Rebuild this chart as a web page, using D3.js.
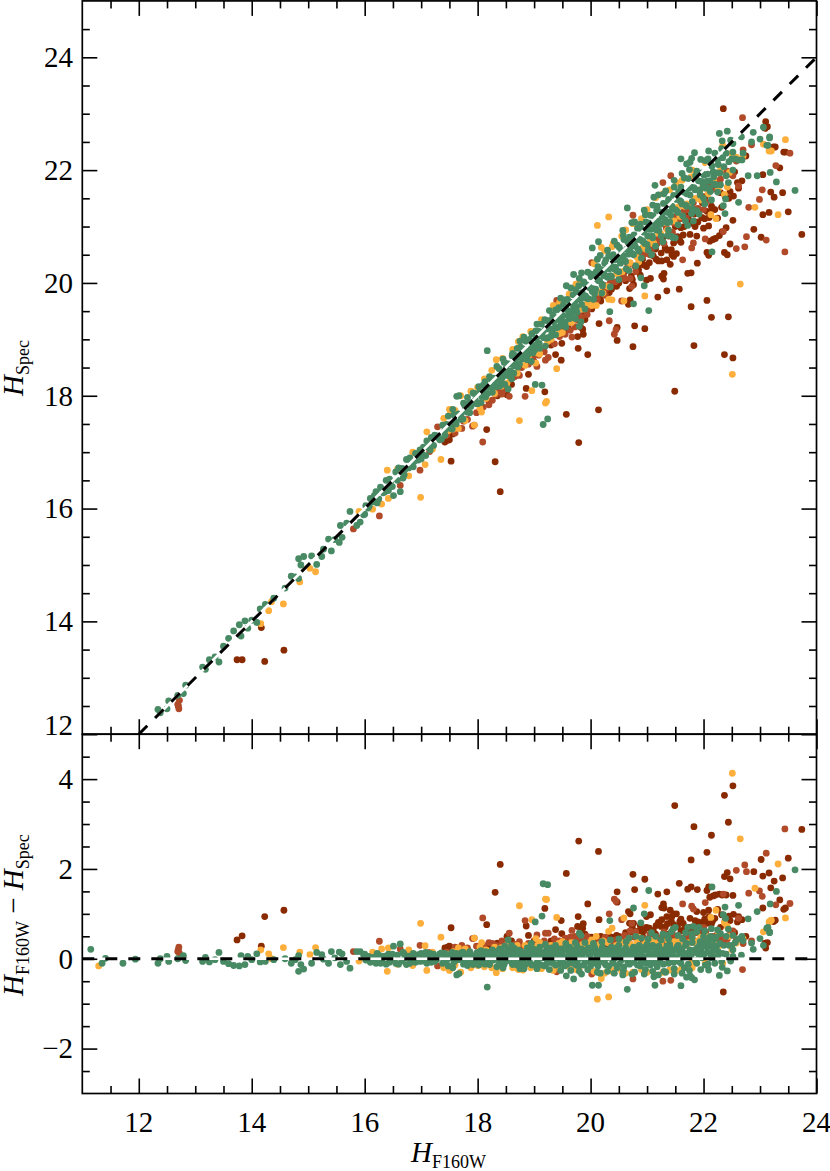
<!DOCTYPE html>
<html>
<head>
<meta charset="utf-8">
<script src="https://cdn.jsdelivr.net/npm/d3@7"></script>
<style>
  html, body { margin: 0; padding: 0; background: #fff; }
  svg { display: block; }
  text { font-family: "Liberation Serif", serif; fill: #000; }
</style>
</head>
<body>
<svg id="chart" width="830" height="1171"></svg>
<script>
// every point is [H_F160W, H_F160W - H_Spec]
const darkRedPoints = [
  [12.7,.2],[13.74,.42],[13.83,.51],[14.23,.94],[14.57,1.08],[14.17,.28],[17.42,.24],[17.47,.26],[17.53,.69],[17.56,.24],
  [17.55,.22],[17.6,.12],[17.5,.28],[18.16,.76],[18.31,1.48],[18.4,2.1],[18.2,.3],[18.35,.35],[18.52,.5],[18.6,.4],
  [18.7,.3],[18.86,.73],[18.9,.52],[19.0,.4],[19.19,1.12],[19.1,.3],[19.3,.4],[19.38,.65],[19.48,.85],[19.49,.56],
  [19.57,1.9],[19.6,.4],[19.7,.35],[19.77,.72],[19.78,.94],[19.79,2.62],[19.86,.68],[19.87,.78],[19.9,.55],[19.95,1.22],
  [19.85,.45],[20.0,.35],[20.14,2.39],[20.15,.87],[20.2,.42],[20.25,.3],[20.33,.5],[20.37,.48],[20.42,.46],[20.47,1.49],
  [20.47,1.26],[20.5,.5],[20.6,.4],[20.67,1.05],[20.69,.79],[20.7,1.0],[20.72,.6],[20.75,1.88],[20.76,.79],[20.78,1.54],
  [20.85,.62],[20.88,.74],[20.92,.5],[20.96,1.77],[20.99,.94],[20.99,.7],[21.03,.45],[21.06,.98],[21.08,.38],[21.11,.63],
  [21.15,.55],[21.19,1.44],[21.2,.81],[21.22,.42],[21.26,1.14],[21.26,.87],[21.29,1.22],[21.3,1.13],[21.32,.7],[21.35,1.49],
  [21.35,.94],[21.38,.55],[21.41,1.08],[21.44,.94],[21.47,1.0],[21.47,.76],[21.49,3.41],[21.52,1.0],[21.5,.5],[21.57,1.68],
  [21.58,.83],[21.6,.62],[21.64,.79],[21.68,.48],[21.72,1.55],[21.75,.7],[21.78,2.2],[21.78,1.6],[21.8,.55],[21.83,2.94],
  [21.85,.85],[21.88,1.05],[21.89,1.54],[21.92,.62],[21.97,.81],[22.0,1.03],[22.03,.5],[22.06,2.37],[22.06,1.52],[22.06,.79],
  [22.09,1.6],[22.09,1.08],[22.11,1.37],[22.14,2.75],[22.14,.78],[22.17,1.4],[22.2,.9],[22.21,1.42],[22.25,1.1],[22.28,1.44],
  [22.3,.7],[22.35,-.74],[22.33,1.42],[22.37,3.64],[22.37,1.83],[22.4,1.42],[22.42,1.92],[22.44,3.04],[22.47,1.78],[22.47,.85],
  [22.52,3.85],[22.52,1.41],[22.53,.99],[22.62,.94],[22.68,.87],[22.75,.5],[22.89,1.94],[23.02,2.21],[23.05,1.84],[23.05,1.13],
  [23.09,.35],[23.1,.24],[23.13,.36],[23.16,1.91],[23.19,1.58],[23.24,.83],[23.25,1.73],[23.27,.86],[23.35,1.31],[23.4,1.8],
  [23.42,1.1],[23.45,1.13],[23.5,2.24],[23.74,2.88]
];
const darkRedBand = [
  [19.82,.6],[19.9,.46],[20.02,.48],[20.18,.5],[20.28,.44],[20.46,.52],[20.54,.42],[20.62,.58],[20.74,.68],[20.84,.55],
  [20.94,.62],[21.04,.68],[21.16,.74],[21.25,.72],[21.28,.48],[21.36,.78],[21.43,.84],[21.54,.72],[21.6,.88],[21.66,.66],
  [21.73,.58],[21.76,.9],[21.84,.62],[21.9,.82],[21.98,.56],[22.02,.88],[22.1,.94],[22.16,.84],[22.24,.52],[22.32,.98],
  [22.38,.84],[22.45,.95],[22.55,.58],[22.6,.82]
];
const midRedPoints = [
  [12.69,.16],[12.71,.26],[12.72,.12],[15.8,.16],[16.26,.39],[16.63,.22],[16.98,.3],[17.15,.14],[17.29,-.16],[17.45,.15],
  [17.91,.45],[17.94,.46],[17.75,.2],[18.09,.91],[18.2,.36],[18.32,.3],[18.43,.4],[18.56,.57],[18.5,.34],[18.62,.3],
  [18.84,.85],[18.78,.28],[19.05,.53],[19.2,.57],[19.25,.57],[19.15,.32],[19.4,-.29],[19.45,.4],[19.55,.46],[19.67,.63],
  [19.72,.5],[19.84,.45],[19.8,.38],[19.95,.42],[20.02,-.34],[20.12,.4],[20.33,1.0],[20.28,.38],[20.42,1.33],[20.45,1.28],
  [20.55,.87],[20.6,.52],[20.7,.62],[20.73,.79],[20.75,-.45],[20.8,.6],[20.9,.45],[21.05,.55],[21.18,.48],[21.28,-.5],
  [21.3,.6],[21.42,-.48],[21.45,.55],[21.55,.42],[21.63,1.22],[21.7,.55],[21.79,1.17],[21.82,1.11],[21.9,.58],[22.0,.7],
  [22.03,1.25],[22.1,.42],[22.25,.55],[22.35,1.44],[22.45,.52],[22.58,1.97],[22.62,.9],[22.69,-.24],[22.73,2.09],[22.76,1.94],
  [22.8,1.46],[22.85,.4],[22.99,1.51],[23.04,1.39],[23.11,2.35],[23.28,1.2],[23.44,2.89],[23.53,1.23]
];
const midRedBand = [
  [17.6,.26],[17.72,.3],[17.82,.24],[17.98,.28],[18.1,.3],[18.26,.34],[18.38,.28],[18.46,.36],[18.66,.32],[18.74,.38],
  [18.9,.34],[18.98,.3],[19.08,.36],[19.18,.4],[19.28,.3],[19.36,.44],[19.42,-.24],[19.5,.36],[19.6,.32],[19.64,.48],
  [19.76,.42],[19.88,.36],[19.94,.5],[20.05,.38],[20.1,.44],[20.2,.36],[20.26,.48],[20.35,.34],[20.44,.42],[20.52,.36],
  [20.58,.46],[20.66,.34],[20.78,.48],[20.86,.38],[20.95,.44],[21.0,.36],[21.08,.48],[21.14,.38],[21.24,.44],[21.34,.36],
  [21.4,.5],[21.48,.42],[21.52,.34],[21.6,.46],[21.66,.38],[21.74,.44],[21.82,.4],[21.88,.58],[21.96,.42],[22.04,.6],
  [22.08,.36],[22.16,.5],[22.2,.38],[22.3,.46],[22.36,.36],[22.42,.44],[22.52,.62],[22.58,.42],[22.7,.34]
];
const orangePoints = [
  [11.29,-.16],[14.16,.2],[14.3,.11],[14.35,0],[14.56,.25],[14.85,.15],[15.03,.09],[15.13,.25],[15.9,-.05],[16.14,.15],
  [16.3,.22],[16.4,-.28],[16.42,.24],[16.58,-.12],[16.78,.2],[16.85,-.15],[16.99,.79],[17.07,.29],[17.1,-.26],[17.2,.15],
  [17.35,.48],[17.4,-.2],[17.48,.1],[17.5,-.26],[17.57,.16],[17.6,-.14],[17.7,-.3],[17.94,.46],[18.0,-.15],[18.07,.36],
  [18.15,.2],[18.25,-.2],[18.33,-.31],[18.42,.25],[18.52,.3],[18.62,-.2],[18.74,1.18],[18.7,.3],[18.8,-.25],[18.96,.87],
  [18.9,.2],[19.03,.45],[19.1,.36],[19.13,-.22],[19.2,1.33],[19.22,1.32],[19.3,.3],[19.4,.92],[19.45,-.2],[19.5,.38],
  [19.62,-.18],[19.7,.35],[19.8,-.2],[19.92,.3],[20.02,.42],[20.12,-.9],[20.1,.5],[20.19,-.44],[20.25,-.32],[20.32,-.85],
  [20.32,.61],[20.38,.68],[20.4,-.3],[20.5,.32],[20.59,.91],[20.55,-.28],[20.65,.4],[20.75,-.3],[20.85,.48],[20.92,.3],
  [20.96,1.19],[21.0,-.3],[21.1,.4],[21.15,-.36],[21.2,.32],[21.32,.25],[21.4,-.25],[21.48,.38],[21.55,.2],[21.62,-.2],
  [21.7,.3],[21.78,-.1],[21.85,.35],[21.95,.48],[22.03,-.1],[22.13,.92],[22.22,1.08],[22.3,.3],[22.37,.8],[22.42,.72],
  [22.5,.2],[22.51,4.13],[22.58,.35],[22.65,2.67],[22.7,.45],[22.91,1.57],[23.06,.6],[23.16,.82],[23.18,.84],[23.2,.86],
  [23.32,2.11],[23.45,.91]
];
const orangeBand = [
  [17.52,-.2],[17.66,.24],[17.78,.22],[17.88,-.2],[18.04,.26],[18.12,-.18],[18.3,.26],[18.44,-.22],[18.58,.28],[18.72,-.24],
  [18.84,.3],[18.94,-.2],[19.06,.3],[19.24,.28],[19.34,-.26],[19.44,.34],[19.56,.3],[19.66,.36],[19.74,-.24],[19.86,.32],
  [19.98,.36],[20.06,-.28],[20.16,.32],[20.22,.4],[20.3,.36],[20.38,-.26],[20.46,.3],[20.56,.36],[20.62,-.32],[20.7,.34],
  [20.82,.36],[20.9,-.24],[20.98,.38],[21.06,.3],[21.12,.42],[21.24,.36],[21.28,-.3],[21.36,.42],[21.44,.34],[21.52,-.26],
  [21.58,.4],[21.66,.3],[21.74,.36],[21.8,-.2],[21.9,.4],[21.98,.3],[22.08,.5],[22.18,.36],[22.26,.6],[22.34,-.1],[22.46,.5]
];
const greenPoints = [
  [11.15,.21],[11.35,-.1],[11.41,.01],[11.72,-.1],[11.94,-.01],[12.34,-.1],[12.38,0],[12.5,.05],[12.53,-.06],[12.69,0],
  [12.79,.07],[12.83,-.04],[13.13,-.06],[13.18,.03],[13.25,-.07],[13.35,-.02],[13.42,.14],[13.5,-.06],[13.59,-.11],[13.68,-.15],
  [13.78,-.16],[13.81,.07],[13.88,-.13],[13.93,.05],[14.0,-.02],[14.09,.11],[14.15,-.07],[14.24,-.06],[14.39,-.02],[14.59,0],
  [14.7,-.1],[14.77,-.02],[14.83,.07],[14.83,-.28],[14.87,-.13],[14.92,-.23],[15.06,-.1],[15.15,.14],[15.24,.09],[15.27,-.01],
  [15.36,-.1],[15.41,.16],[15.47,.02],[15.55,.15],[15.57,-.13],[15.6,.11],[15.68,-.06],[15.74,-.21],[15.86,.16],[15.92,.16],
  [15.98,.09],[16.02,-.03],[16.06,.05],[16.1,-.08],[16.15,.03],[16.2,-.1],[16.25,.08],[16.3,-.05],[16.33,.05],[16.38,-.12],
  [16.42,.1],[16.46,-.02],[16.51,.28],[16.55,-.1],[16.58,.08],[16.63,.33],[16.66,-.05],[16.7,.1],[16.74,-.13],[16.78,.06],
  [16.82,-.03],[16.86,.12],[16.9,-.08],[16.95,.09],[17.0,.12],[17.04,-.05],[17.08,.14],[17.12,.03],[17.18,-.08],[17.22,.1],
  [17.27,-.02],[17.33,.11],[17.38,-.1],[17.42,.03],[17.48,-.16],[17.52,.1],[17.56,-.2],[17.6,.06],[17.63,-.36],[17.67,-.33],
  [17.71,.13],[17.75,-.12],[17.78,.05],[17.82,-.15],[17.86,.16],[17.9,.02],[17.94,-.1],[17.98,.12],[18.02,-.14],[18.06,.18],
  [18.1,.03],[18.13,-.12],[18.17,-.63],[18.18,.14],[18.22,-.08],[18.26,.2],[18.3,.05],[18.34,-.18],[18.39,.22],[18.43,.12],
  [18.45,-.2],[18.48,.28],[18.5,.02],[18.54,.42],[18.58,.14],[18.61,-.1],[18.64,.24],[18.67,.06],[18.7,-.14],[18.74,.18],
  [18.78,.02],[18.82,-.22],[18.84,.12],[18.88,.24],[18.92,-.08],[18.95,.1],[18.98,.22],[19.02,.82],[19.03,-.12],[19.06,.14],
  [19.1,.26],[19.14,.95],[19.15,.02],[19.16,1.67],[19.19,-.16],[19.22,.2],[19.24,1.65],[19.26,.06],[19.3,.24],[19.33,-.1],
  [19.36,.16],[19.4,.02],[19.44,-.12],[19.46,.22],[19.5,.08],[19.54,-.16],[19.57,-.38],[19.6,.18],[19.63,.26],[19.66,.02],
  [19.7,-.45],[19.7,.14],[19.74,-.14],[19.76,.28],[19.8,.57],[19.83,.52],[19.84,-.34],[19.86,.12],[19.9,-.08],[19.93,.2],
  [19.97,.04],[20.0,-.16],[20.03,-.59],[20.03,.18],[20.07,.26],[20.1,-.1],[20.14,-.59],[20.14,.1],[20.17,-.32],[20.2,.22],
  [20.24,.03],[20.27,-.14],[20.3,.2],[20.33,.08],[20.34,.85],[20.37,.26],[20.4,-.1],[20.44,.16],[20.47,-.2],[20.5,.3],
  [20.54,.06],[20.57,-.36],[20.6,.2],[20.63,.38],[20.65,-.68],[20.66,-.06],[20.7,.14],[20.73,-.34],[20.76,1.13],[20.76,.26],
  [20.8,.04],[20.83,-.14],[20.86,.3],[20.89,.8],[20.9,-.06],[20.93,.2],[20.95,1.0],[20.97,-.24],[21.0,.32],[21.03,1.52],
  [21.03,.08],[21.06,-.14],[21.08,.58],[21.1,.3],[21.12,-.4],[21.14,-.59],[21.15,.14],[21.18,-.18],[21.21,.28],[21.25,.04],
  [21.28,.55],[21.3,-.28],[21.32,.2],[21.36,.52],[21.38,-.1],[21.4,.32],[21.44,.08],[21.46,.66],[21.48,-.22],[21.5,.7],
  [21.53,.26],[21.56,-.06],[21.6,-.6],[21.6,.16],[21.63,.44],[21.66,-.2],[21.7,.34],[21.7,-.41],[21.72,.7],[21.74,.06],
  [21.76,-.38],[21.79,.56],[21.79,-.42],[21.82,.72],[21.84,-.47],[21.85,.2],[21.88,-.1],[21.92,.7],[21.93,.3],[21.97,.02],
  [22.0,.5],[22.03,-.14],[22.06,.26],[22.09,-.25],[22.1,.42],[22.14,.67],[22.15,1.6],[22.15,.08],[22.18,.3],[22.2,-.1],
  [22.22,.48],[22.26,.16],[22.28,-.37],[22.3,.56],[22.33,-.19],[22.35,.98],[22.36,.3],[22.38,1.15],[22.39,.9],[22.4,.1],
  [22.42,-.27],[22.44,.66],[22.45,.3],[22.48,-.05],[22.52,.05],[22.52,.2],[22.52,.52],[22.56,.36],[22.62,.44],[22.62,1.19],
  [22.67,.08],[22.68,.5],[22.7,.4],[22.79,.89],[22.85,.35],[22.88,.21],[22.95,1.05],[23.0,.45],[23.06,.3],[23.12,.68],
  [23.14,.7],[23.17,.6],[23.17,.58],[23.18,1.22],[23.29,1.5],[23.62,1.98]
];
// the solid green ribbon along the one-to-one line
const greenBand = [
  [16.0,.1],[16.08,.04],[16.17,-.06],[16.22,.12],[16.28,-.1],[16.36,.06],[16.44,-.08],[16.49,.1],[16.6,-.12],[16.68,.14],
  [16.72,.02],[16.8,-.1],[16.88,.04],[16.98,-.06],[17.02,.06],[17.1,-.1],[17.16,.12],[17.24,-.06],[17.3,.04],[17.36,.13],
  [17.42,.12],[17.45,-.04],[17.5,.02],[17.55,.14],[17.58,-.08],[17.62,.12],[17.66,-.02],[17.7,.04],[17.74,.15],[17.77,-.06],
  [17.81,.1],[17.85,-.02],[17.88,.07],[17.92,-.13],[17.96,.04],[18.0,.14],[18.03,-.02],[18.07,.08],[18.1,-.09],[18.14,.16],
  [18.18,.02],[18.21,-.13],[18.25,.1],[18.28,-.03],[18.32,.16],[18.35,.04],[18.38,-.1],[18.41,.18],[18.44,.02],[18.47,-.12],
  [18.5,.14],[18.53,-.04],[18.56,.2],[18.59,.03],[18.62,-.13],[18.65,.12],[18.68,-.03],[18.71,.2],[18.73,.04],[18.76,-.1],
  [18.79,.14],[18.81,-.02],[18.85,-.12],[18.87,.08],[18.9,.16],[18.93,.02],[18.96,-.14],[18.99,.1],[19.01,.2],[19.04,.02],
  [19.07,-.08],[19.09,.16],[19.12,.06],[19.13,-.14],[19.17,.14],[19.2,.02],[19.23,-.1],[19.25,.22],[19.28,.1],[19.3,-.04],
  [19.32,.18],[19.35,.04],[19.38,-.14],[19.41,.2],[19.43,.08],[19.47,-.04],[19.49,.16],[19.52,-.1],[19.55,.24],[19.57,.04],
  [19.59,-.12],[19.62,.12],[19.64,-.02],[19.67,.2],[19.69,-.1],[19.72,.06],[19.75,.18],[19.77,-.04],[19.79,-.16],[19.81,.1],
  [19.84,.22],[19.85,.02],[19.88,-.14],[19.91,.14],[19.94,-.02],[19.96,.24],[19.99,.08],[20.01,-.1],[20.04,.14],[20.06,-.04],
  [20.09,.2],[20.11,.04],[20.13,-.16],[20.16,.12],[20.18,-.06],[20.21,.26],[20.23,.1],[20.25,-.1],[20.28,.16],[20.29,.02],
  [20.32,-.16],[20.35,.22],[20.36,.06],[20.39,-.06],[20.41,.16],[20.43,.02],[20.46,.24],[20.49,.08],[20.51,-.12],[20.53,.18],
  [20.55,-.02],[20.58,.1],[20.59,-.18],[20.62,.24],[20.64,.04],[20.67,.16],[20.69,-.12],[20.72,.06],[20.74,.22],[20.77,-.08],
  [20.79,.14],[20.82,.02],[20.84,.24],[20.87,.1],[20.88,-.16],[20.91,.16],[20.94,.04],[20.96,.26],[20.98,-.1],[21.01,.18],
  [21.04,-.02],[21.07,.12],[21.09,.26],[21.11,-.08],[21.13,.06],[21.16,.22],[21.17,-.12],[21.2,.1],[21.22,-.04],[21.24,.2],
  [21.27,.1],[21.29,-.12],[21.33,.06],[21.35,.28],[21.37,.12],[21.39,-.04],[21.42,.22],[21.45,.14],[21.47,-.08],[21.5,.2],
  [21.52,.04],[21.55,.3],[21.58,.12],[21.6,-.1],[21.62,.22],[21.65,.04],[21.68,.3],[21.7,.12],[21.73,-.12],[21.76,.2],
  [21.78,.08],[21.8,.36],[21.83,.14],[21.86,-.04],[21.89,.24],[21.91,.1],[21.94,.38],[21.96,.16],[21.99,.28],[22.01,.1],
  [22.04,.36],[22.07,.14],[22.11,.3],[22.13,.02],[22.17,.2],[22.19,.44],[22.23,.28],[22.25,.06],[22.29,.34],[22.34,.12]
];
// looser green either side of the ribbon
const greenSpread = [
  [18.6,.3],[18.75,-.22],[18.95,.34],[19.05,-.22],[19.2,.32],[19.27,-.24],[19.38,.3],[19.47,-.26],[19.56,.34],[19.65,-.26],
  [19.73,.36],[19.8,-.28],[19.9,.36],[19.95,-.24],[20.05,.34],[20.12,-.3],[20.2,.38],[20.3,-.28],[20.35,.42],[20.42,-.32],
  [20.5,.44],[20.58,-.26],[20.68,.46],[20.78,-.3],[20.8,.5],[20.9,.46],[20.95,-.34],[21.02,.44],[21.1,-.28],[21.15,.5],
  [21.2,-.36],[21.25,.42],[21.33,-.3],[21.38,.44],[21.43,.6],[21.48,-.34],[21.55,.52],[21.62,-.32],[21.68,.58],[21.75,-.26],
  [21.8,.48],[21.88,.6],[21.95,-.24],[22.02,.62],[22.08,-.12],[22.12,.5],[22.25,.64],[22.32,-.06],[22.4,.5],[22.5,.3]
];
// drawn back to front, green ends up on top
const seriesPoints = [
  darkRedPoints.concat(darkRedBand),
  midRedPoints.concat(midRedBand),
  orangePoints.concat(orangeBand),
  greenPoints.concat(greenBand, greenSpread)
];
const seriesColors = ['#8a2a00', '#b04a28', '#fdae3b', '#488a64'];

const xMajor = [12, 14, 16, 18, 20, 22, 24];
const xMinor = d3.range(11.5, 24, 0.5).filter(v => xMajor.indexOf(v) === -1);
const yTopMajor = [12, 14, 16, 18, 20, 22, 24];
const yTopMinor = d3.range(12.5, 25, 0.5).filter(v => yTopMajor.indexOf(v) === -1);
const yBotMajor = [-2, 0, 2, 4];
const yBotMinor = d3.range(-2.5, 5, 0.5).filter(v => yBotMajor.indexOf(v) === -1);

const left = 82.3, right = 816.5;
const x = d3.scaleLinear().domain([11, 24]).range([left, right]);
const yTop = d3.scaleLinear().domain([12, 25]).range([734.2, 0.9]);
const yBot = d3.scaleLinear().domain([-3, 5]).range([1093.5, 734.2]);

const svg = d3.select('#chart');
const fontSize = 29;

function drawPanel(id, y, getY, lineData) {
  const [y0, y1] = y.range();
  svg.append('clipPath').attr('id', id).append('rect')
    .attr('x', left).attr('y', y1)
    .attr('width', right - left).attr('height', y0 - y1);

  const g = svg.append('g').attr('clip-path', `url(#${id})`);

  seriesPoints.forEach((pts, i) => {
    g.append('g').selectAll('circle')
      .data(pts)
      .enter().append('circle')
      .attr('cx', d => x(d[0]))
      .attr('cy', d => y(getY(d)))
      .attr('r', 3.4)
      .attr('fill', seriesColors[i]);
  });

  // white line under the black dashes, both above the points
  const line = d3.line().x(d => x(d[0])).y(d => y(d[1]));
  g.append('path').datum(lineData).attr('d', line)
    .attr('fill', 'none').attr('stroke', '#fff').attr('stroke-width', 2.6);
  g.append('path').datum(lineData).attr('d', line)
    .attr('fill', 'none').attr('stroke', '#000').attr('stroke-width', 3)
    .attr('stroke-dasharray', '12,11');
}

drawPanel('clipTop', yTop, d => d[0] - d[1], [[12, 12], [24, 24]]);
drawPanel('clipBot', yBot, d => d[1], [[11, 0], [24, 0]]);

function addTicks(axisFn, scale, values, size, pos) {
  const axis = axisFn(scale).tickValues(values).tickSize(size).tickSizeOuter(0).tickFormat('');
  const g = svg.append('g').attr('transform', pos).call(axis);
  g.select('.domain').remove();
  g.selectAll('line').attr('stroke', '#000').attr('stroke-width', 1.6);
  return g;
}

const major = 15, minor = 7.5;

[[yTop, yTopMajor, yTopMinor], [yBot, yBotMajor, yBotMinor]].forEach(p => {
  const y = p[0];
  const [y0, y1] = y.range();
  // bottom and top edge ticks
  addTicks(d3.axisTop, x, xMajor, major, `translate(0,${y0})`);
  addTicks(d3.axisTop, x, xMinor, minor, `translate(0,${y0})`);
  addTicks(d3.axisBottom, x, xMajor, major, `translate(0,${y1})`);
  addTicks(d3.axisBottom, x, xMinor, minor, `translate(0,${y1})`);
  // left and right edge ticks
  addTicks(d3.axisRight, y, p[1], major, `translate(${left},0)`);
  addTicks(d3.axisRight, y, p[2], minor, `translate(${left},0)`);
  addTicks(d3.axisLeft, y, p[1], major, `translate(${right},0)`);
  addTicks(d3.axisLeft, y, p[2], minor, `translate(${right},0)`);

  svg.append('rect')
    .attr('x', left).attr('y', y1)
    .attr('width', right - left).attr('height', y0 - y1)
    .attr('fill', 'none').attr('stroke', '#000').attr('stroke-width', 1.7);

  // tick labels sit outside the frame, the lowest one is lifted clear of the panel below
  svg.append('g').selectAll('text')
    .data(p[1])
    .enter().append('text')
    .attr('x', 73)
    .attr('y', d => y(d) - (y === yTop && d === 12 ? 9 : 0))
    .attr('dy', '.34em')
    .attr('text-anchor', 'end')
    .attr('font-size', fontSize)
    .text(d => d3.format('d')(d));
});

svg.append('g').selectAll('text')
  .data(xMajor)
  .enter().append('text')
  .attr('x', d => x(d))
  .attr('y', 1131.5)
  .attr('text-anchor', 'middle')
  .attr('font-size', fontSize)
  .text(d => d);

// axis titles, H italic with a smaller upright subscript
function addTitle(parts, attrs) {
  const t = svg.append('text').attr('font-size', 29);
  Object.keys(attrs).forEach(k => t.attr(k, attrs[k]));
  let shift = 0;
  parts.forEach(p => {
    const s = t.append('tspan').text(p.text);
    if (p.italic) s.attr('font-style', 'italic');
    if (p.sub) s.attr('font-size', 18);
    s.attr('dy', (p.sub ? 6 : 0) - shift);
    shift = p.sub ? 6 : 0;
  });
}

addTitle([{text: 'H', italic: true}, {text: 'F160W', sub: true}],
  {x: 411, y: 1162});
addTitle([{text: 'H', italic: true}, {text: 'Spec', sub: true}],
  {transform: 'translate(23,396) rotate(-90)'});
addTitle([{text: 'H', italic: true}, {text: 'F160W', sub: true}, {text: ' − '},
  {text: 'H', italic: true}, {text: 'Spec', sub: true}],
  {transform: 'translate(23,996) rotate(-90)'});
</script>
</body>
</html>
